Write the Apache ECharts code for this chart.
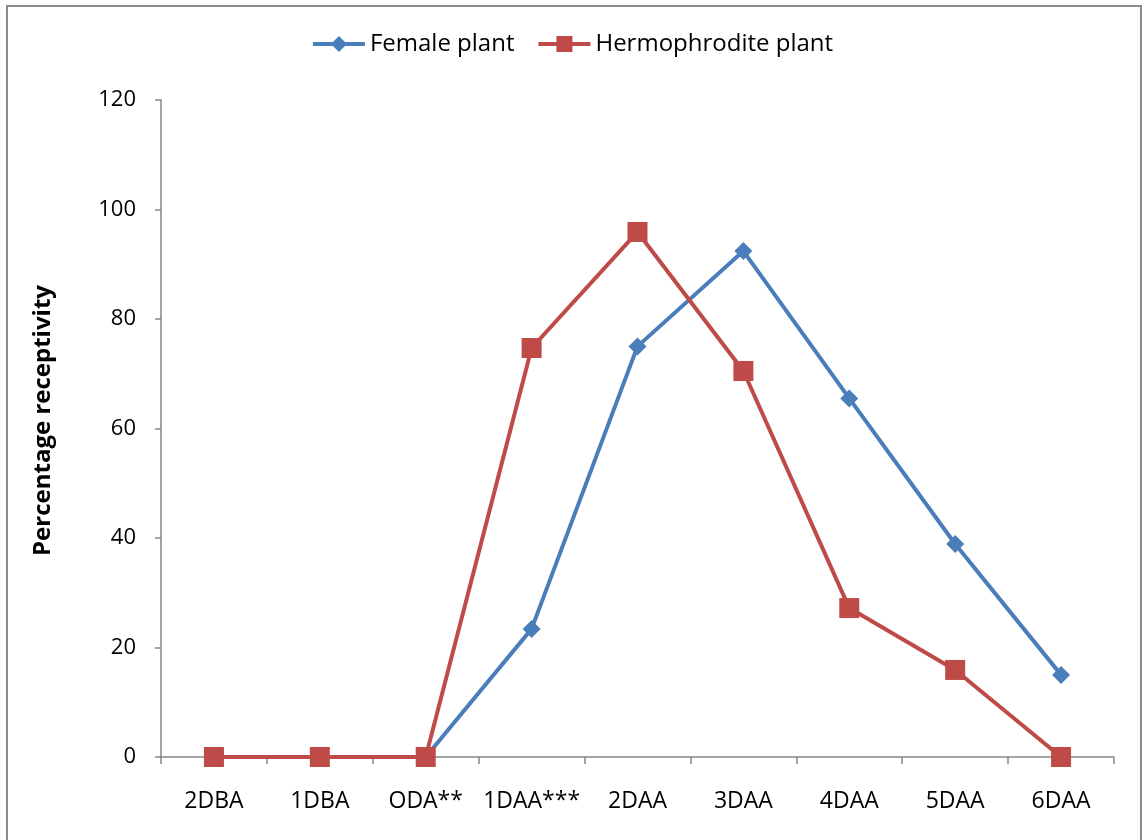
<!DOCTYPE html>
<html>
<head>
<meta charset="utf-8">
<style>html,body{margin:0;padding:0;background:#fff;}#c{width:1144px;height:840px;}</style>
<script src="https://cdn.jsdelivr.net/npm/echarts@6/dist/echarts.min.js"></script>
</head>
<body>
<div id="c"></div>
<script>
const categories = ['2DBA','1DBA','ODA**','1DAA***','2DAA','3DAA','4DAA','5DAA','6DAA'];
const femalePlant = [0, 0, 0, 23.4, 75.0, 92.4, 65.5, 38.9, 15.0];
const hermaphroditePlant = [0, 0, 0, 74.7, 95.9, 70.5, 27.2, 15.9, 0];
const yTicks = [0, 20, 40, 60, 80, 100, 120];

const FONT = '"Open Sans", Lato, sans-serif';
const chart = echarts.init(document.getElementById('c'), null, {renderer: 'canvas'});
chart.setOption({
  backgroundColor: '#fff',
  animation: false,
  graphic: [{
    type: 'rect', z: -10, silent: true,
    shape: {x: 7, y: 6, width: 1134, height: 900},
    style: {fill: 'none', stroke: '#8c8c8c', lineWidth: 2}
  }],
  legend: {
    top: 27, left: 'center',
    itemWidth: 52, itemHeight: 20, itemGap: 22,
    lineStyle: {width: 4, inactiveWidth: 4},
    textStyle: {fontFamily: FONT, fontSize: 24, color: '#000'},
    data: ['Female plant', 'Hermophrodite plant']
  },
  grid: {left: 161, right: 30, top: 100, bottom: 83, containLabel: false},
  xAxis: {
    type: 'category', data: categories, boundaryGap: true,
    axisLine: {lineStyle: {color: '#868686', width: 1.5}},
    axisTick: {show: true, interval: 0, alignWithLabel: false, length: 7, lineStyle: {color: '#868686', width: 1.5}},
    axisLabel: {fontFamily: FONT, fontSize: 23, color: '#000', margin: 33, interval: 0}
  },
  yAxis: {
    type: 'value', min: 0, max: 120, interval: 20,
    name: 'Percentage receptivity', nameLocation: 'middle', nameGap: 106, nameRotate: 90,
    nameTextStyle: {fontFamily: FONT, fontSize: 24, fontWeight: 'bold', color: '#000', padding: [0, 0, 0, 16]},
    axisLine: {show: true, lineStyle: {color: '#868686', width: 1.5}},
    axisTick: {show: true, length: 6, lineStyle: {color: '#868686', width: 1.5}},
    splitLine: {show: false},
    axisLabel: {fontFamily: FONT, fontSize: 22, color: '#000', margin: 25,
      formatter: v => yTicks.includes(v) ? String(v) : ''}
  },
  series: [
    {
      name: 'Female plant', type: 'line', data: femalePlant,
      symbol: 'diamond', symbolSize: 18,
      lineStyle: {color: '#4a7ebb', width: 4},
      itemStyle: {color: '#4a7ebb'}, z: 2
    },
    {
      name: 'Hermophrodite plant', type: 'line', data: hermaphroditePlant,
      symbol: 'rect', symbolSize: 20,
      lineStyle: {color: '#be4b48', width: 4},
      itemStyle: {color: '#be4b48'}, z: 3
    }
  ]
});
</script>
</body>
</html>
